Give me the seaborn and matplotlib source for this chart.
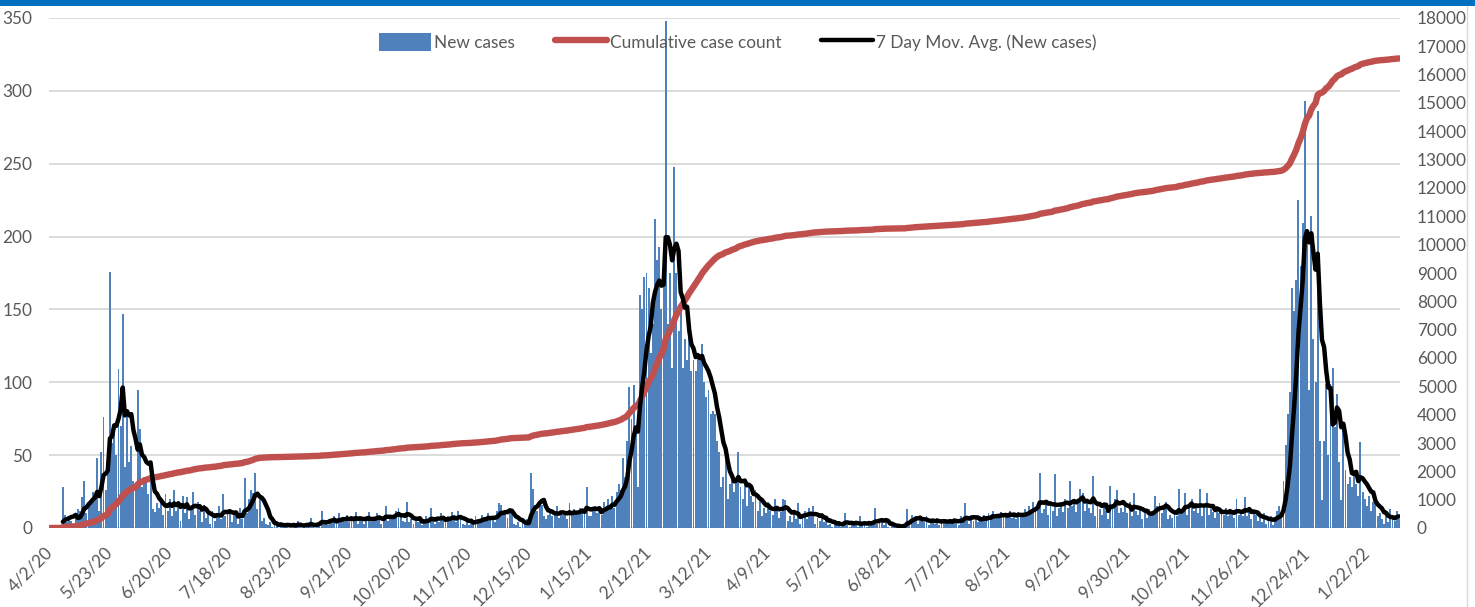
import numpy as np
import pandas as pd
import matplotlib
matplotlib.use("Agg")
import matplotlib.pyplot as plt
from matplotlib.patches import Rectangle, Patch
from matplotlib.lines import Line2D
import seaborn as sns

# x-axis labels, one every 28 rows of the daily table
tick_labels = ["4/2/20", "5/23/20", "6/20/20", "7/18/20", "8/23/20", "9/21/20",
               "10/20/20", "11/17/20", "12/15/20", "1/15/21", "2/12/21", "3/12/21",
               "4/9/21", "5/7/21", "6/8/21", "7/7/21", "8/5/21", "9/2/21", "9/30/21",
               "10/29/21", "11/26/21", "12/24/21", "1/22/22"]

# daily new cases, one list per 28-row span beginning at each labelled date
cases_0402_20 = [0, 0, 1, 0, 1, 0, 28, 9, 4, 6, 5, 3, 8, 13, 12, 21, 32, 10, 17, 19, 25, 22, 48, 12, 52, 76, 26, 40]
cases_0523_20 = [176, 58, 65, 50, 109, 70, 147, 42, 78, 45, 56, 32, 28, 95, 68, 28, 35, 32, 23, 34, 13, 11, 17, 14, 20, 9, 23, 12]
cases_0620_20 = [20, 8, 26, 12, 18, 5, 22, 10, 21, 6, 14, 25, 9, 18, 12, 4, 16, 7, 10, 3, 12, 5, 9, 15, 6, 23, 8, 10]
cases_0718_20 = [10, 4, 12, 8, 3, 14, 6, 34, 10, 20, 26, 24, 38, 13, 20, 5, 7, 3, 2, 4, 1, 3, 2, 0, 4, 1, 2, 3]
cases_0823_20 = [2, 0, 3, 1, 5, 2, 0, 1, 3, 2, 7, 1, 0, 2, 4, 12, 3, 5, 2, 6, 4, 8, 3, 10, 5, 7, 4, 9]
cases_0921_20 = [4, 8, 5, 11, 3, 7, 6, 3, 8, 11, 4, 5, 7, 10, 6, 3, 8, 15, 5, 7, 9, 6, 12, 14, 8, 5, 4, 18]
cases_1020_20 = [4, 6, 3, 5, 4, 7, 2, 4, 8, 4, 14, 5, 3, 7, 4, 10, 6, 4, 8, 5, 11, 7, 4, 12, 6, 3, 2, 5]
cases_1117_20 = [2, 5, 3, 8, 6, 4, 9, 7, 5, 10, 6, 8, 4, 12, 17, 16, 9, 11, 7, 13, 10, 3, 2, 4, 1, 5, 3, 6]
cases_1215_20 = [3, 38, 27, 16, 12, 18, 16, 8, 6, 9, 13, 8, 11, 15, 7, 12, 9, 10, 6, 17, 8, 13, 11, 9, 14, 12, 10, 28]
cases_0115_21 = [8, 8, 12, 15, 10, 14, 9, 18, 12, 20, 16, 22, 14, 25, 30, 26, 48, 35, 60, 97, 75, 98, 70, 28, 160, 150, 172, 175]
cases_0212_21 = [165, 120, 140, 212, 184, 193, 150, 170, 348, 140, 175, 110, 248, 175, 135, 150, 110, 130, 115, 135, 108, 115, 108, 120, 115, 126, 100, 90]
cases_0312_21 = [95, 78, 80, 78, 60, 52, 28, 35, 48, 20, 30, 38, 25, 32, 52, 28, 20, 33, 15, 28, 22, 18, 26, 12, 21, 8, 14, 10]
cases_0409_21 = [18, 12, 9, 20, 14, 7, 11, 20, 19, 5, 8, 4, 10, 6, 17, 3, 9, 12, 6, 14, 8, 15, 3, 7, 5, 9, 4, 6]
cases_0507_21 = [2, 3, 1, 4, 2, 5, 1, 3, 10, 2, 1, 3, 2, 4, 1, 8, 2, 3, 1, 5, 2, 4, 14, 3, 6, 4, 2, 5]
cases_0608_21 = [1, 0, 2, 1, 0, 2, 1, 3, 2, 13, 4, 9, 7, 8, 3, 6, 5, 4, 8, 2, 6, 5, 3, 7, 2, 6, 4, 5]
cases_0707_21 = [3, 6, 4, 7, 5, 2, 8, 4, 17, 6, 3, 9, 5, 7, 4, 8, 6, 9, 5, 10, 7, 12, 6, 9, 8, 11, 7, 10]
cases_0805_21 = [8, 12, 7, 10, 6, 11, 9, 8, 13, 10, 15, 12, 18, 14, 16, 38, 10, 13, 17, 9, 15, 12, 37, 8, 14, 18, 11, 20]
cases_0902_21 = [14, 32, 15, 20, 11, 18, 27, 24, 12, 19, 14, 10, 36, 8, 16, 13, 9, 18, 12, 6, 29, 15, 20, 26, 10, 14, 11, 17]
cases_0930_21 = [10, 18, 8, 24, 12, 9, 14, 6, 11, 7, 13, 8, 12, 22, 15, 17, 10, 14, 18, 6, 9, 7, 11, 8, 27, 10, 13, 24]
cases_1029_21 = [9, 15, 20, 12, 16, 10, 27, 8, 14, 24, 9, 13, 11, 7, 15, 10, 12, 9, 14, 8, 13, 10, 7, 20, 9, 11, 8, 21]
cases_1126_21 = [8, 14, 6, 11, 9, 5, 7, 4, 10, 3, 6, 8, 2, 7, 12, 15, 10, 32, 57, 78, 93, 165, 149, 170, 225, 180, 209, 293]
cases_1224_21 = [200, 95, 214, 130, 100, 286, 60, 19, 60, 99, 50, 99, 110, 69, 92, 45, 19, 67, 40, 30, 35, 28, 40, 30, 22, 59, 25, 20]
cases_0122_22 = [15, 22, 12, 18, 19, 8, 10, 6, 3, 9, 4, 13, 7, 5, 12, 6]

BLUE = "#4f81bd"
RED = "#c0504d"
TEXT = "#595959"
GRID = "#d9d9d9"

new_cases = np.array(
    cases_0402_20 + cases_0523_20 + cases_0620_20 + cases_0718_20 + cases_0823_20
    + cases_0921_20 + cases_1020_20 + cases_1117_20 + cases_1215_20 + cases_0115_21
    + cases_0212_21 + cases_0312_21 + cases_0409_21 + cases_0507_21 + cases_0608_21
    + cases_0707_21 + cases_0805_21 + cases_0902_21 + cases_0930_21 + cases_1029_21
    + cases_1126_21 + cases_1224_21 + cases_0122_22, dtype=float)

df = pd.DataFrame({"row": np.arange(len(new_cases)), "new": new_cases})
df["cumulative"] = df["new"].cumsum()
df["avg7"] = df["new"].rolling(7).mean()
n = len(df)

sns.set_style("white")
plt.rcParams["font.family"] = ["Lato", "DejaVu Sans"]
FS = 12.4

W, H = 1475, 607
fig = plt.figure(figsize=(W / 100, H / 100), dpi=100)
ax = fig.add_axes([49 / W, 1 - 528 / H, (1400 - 49) / W, (528 - 18) / H])

# daily bars on the left axis
sns.barplot(data=df, x="row", y="new", color=BLUE, saturation=1, width=0.9,
            errorbar=None, linewidth=0, antialiased=False, ax=ax)

# cumulative count on the right axis
ax2 = ax.twinx()
sns.lineplot(data=df, x="row", y="cumulative", color=RED, lw=4.6, ax=ax2,
             solid_capstyle="round", solid_joinstyle="round")

# 7-day moving average, drawn above everything in left-axis units
ax3 = ax.twinx()
sns.lineplot(data=df, x="row", y="avg7", color="black", lw=3.2, ax=ax3,
             solid_capstyle="round", solid_joinstyle="round")

ax.set_ylim(0, 350)
ax3.set_ylim(0, 350)
ax2.set_ylim(0, 18000)
ax.set_xlim(-0.5, n - 0.5)

ax.set_yticks(np.arange(0, 351, 50))
ax2.set_yticks(np.arange(0, 18001, 1000))
ax3.set_yticks([])
ax.yaxis.grid(True, color=GRID, lw=1.3)
ax.set_axisbelow(True)

ax.set_xticks(np.arange(0, n, 28))
ax.set_xticklabels(tick_labels, rotation=45, ha="right", va="center",
                   rotation_mode="anchor")
ax.tick_params(axis="x", length=0, pad=16, labelsize=FS, labelcolor=TEXT)
ax.tick_params(axis="y", length=0, pad=12, labelsize=FS, labelcolor=TEXT)
ax2.tick_params(axis="y", length=0, pad=12, labelsize=FS, labelcolor=TEXT)

for a in (ax, ax2, ax3):
    a.set_xlabel("")
    a.set_ylabel("")
    for s in a.spines.values():
        s.set_visible(False)

handles = [Patch(facecolor=BLUE, edgecolor="none"),
           Line2D([], [], color=RED, lw=4.6, solid_capstyle="round"),
           Line2D([], [], color="black", lw=3.2, solid_capstyle="round")]
labels = ["New cases", "Cumulative case count", "7 Day Mov. Avg. (New cases)"]
leg = ax3.legend(handles, labels, loc="center", bbox_to_anchor=(0.51, 0.953),
                 ncol=3, frameon=False, fontsize=FS, handlelength=3.0,
                 handleheight=1.3, handletextpad=0.2, columnspacing=2.3)
for t in leg.get_texts():
    t.set_color(TEXT)

# banner strip and outer border of the chart area
fig.patches.append(Rectangle((0, 1 - 6 / H), 1, 6 / H, transform=fig.transFigure,
                             facecolor="#0070c0", edgecolor="none"))
fig.add_artist(Line2D([1467 / W, 1467 / W], [0, 1 - 6 / H], transform=fig.transFigure,
                      color=GRID, lw=1.0))

fig.savefig("out.png", dpi=100)
